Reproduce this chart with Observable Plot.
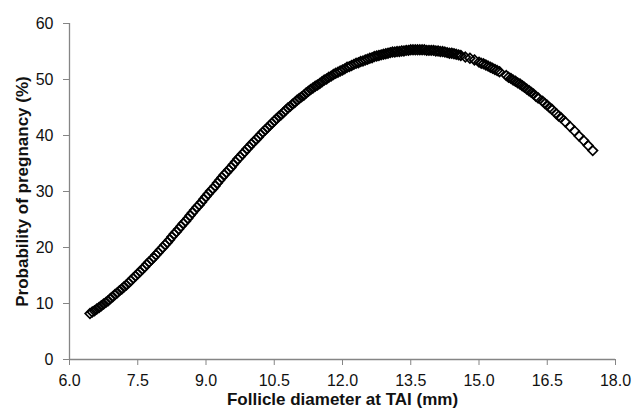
<!DOCTYPE html>
<html><head><meta charset="utf-8">
<script src="https://cdn.jsdelivr.net/npm/d3@7"></script>
<script src="https://cdn.jsdelivr.net/npm/@observablehq/plot@0.6"></script>
<style>body{margin:0;background:#fff;} #chart{width:635px;height:415px;}</style>
</head><body><div id="chart"></div>
<script>
// Follicle diameter at TAI (mm)
const diameter = [
  6.45, 6.5, 6.55, 6.6, 6.65, 6.7, 6.75, 6.8, 6.85, 6.9, 6.95, 7.0, 7.05, 7.1, 7.15, 7.2, 7.25, 7.3, 7.35, 7.4, 7.45, 7.5, 7.55, 7.6, 7.65, 7.7, 7.75, 7.8, 7.85, 7.9, 7.95,
  8.0, 8.05, 8.1, 8.15, 8.2, 8.25, 8.3, 8.35, 8.4, 8.45, 8.5, 8.55, 8.6, 8.65, 8.7, 8.75, 8.8, 8.85, 8.9, 8.95,
  9.0, 9.05, 9.1, 9.15, 9.2, 9.25, 9.3, 9.35, 9.4, 9.45, 9.5, 9.55, 9.6, 9.65, 9.7, 9.75, 9.8, 9.85, 9.9, 9.95,
  10.0, 10.05, 10.1, 10.15, 10.2, 10.25, 10.3, 10.35, 10.4, 10.45, 10.5, 10.55, 10.6, 10.65, 10.7, 10.75, 10.8, 10.85, 10.9, 10.95,
  11.0, 11.05, 11.1, 11.15, 11.2, 11.25, 11.3, 11.35, 11.4, 11.45, 11.5, 11.55, 11.6, 11.65, 11.7, 11.75, 11.8, 11.85, 11.9, 11.95,
  12.0, 12.05, 12.1, 12.15, 12.2, 12.25, 12.3, 12.35, 12.4, 12.45, 12.5, 12.55, 12.6, 12.65, 12.7, 12.75, 12.8, 12.85, 12.9, 12.95,
  13.0, 13.05, 13.1, 13.15, 13.2, 13.25, 13.3, 13.35, 13.4, 13.45, 13.5, 13.55, 13.6, 13.65, 13.7, 13.75, 13.8, 13.85, 13.9, 13.95,
  14.0, 14.05, 14.1, 14.15, 14.2, 14.25, 14.3, 14.35, 14.4, 14.45, 14.5, 14.55,
  14.6, 14.7, 14.8, 14.9,
  15.0, 15.05, 15.1, 15.15, 15.2, 15.25, 15.3, 15.35, 15.4, 15.45,
  15.6, 15.65, 15.7, 15.75, 15.8, 15.85, 15.9, 15.95, 16.0, 16.05, 16.1, 16.15, 16.2, 16.25, 16.3,
  16.4, 16.45, 16.5, 16.55, 16.6, 16.7, 16.75,
  16.8, 16.9, 17.0, 17.1, 17.2, 17.3, 17.4, 17.5
];
// Probability of pregnancy (%)
const probability = [
  8.2, 8.5, 8.7, 9.0, 9.3, 9.6, 9.9, 10.2, 10.5, 10.9, 11.2, 11.6, 11.9, 12.3, 12.6, 13.0, 13.3, 13.7, 14.1, 14.5, 14.9, 15.3, 15.7, 16.1, 16.5, 17.0, 17.4, 17.8, 18.2, 18.7, 19.1,
  19.6, 20.0, 20.5, 20.9, 21.4, 21.9, 22.4, 22.8, 23.3, 23.8, 24.3, 24.7, 25.2, 25.7, 26.2, 26.7, 27.2, 27.6, 28.1, 28.6,
  29.1, 29.6, 30.1, 30.5, 31.0, 31.5, 32.0, 32.5, 33.0, 33.4, 33.9, 34.3, 34.8, 35.3, 35.8, 36.2, 36.7, 37.1, 37.6, 38.0,
  38.5, 38.9, 39.3, 39.7, 40.2, 40.6, 41.0, 41.4, 41.8, 42.2, 42.6, 43.0, 43.4, 43.7, 44.1, 44.5, 44.9, 45.2, 45.6, 45.9,
  46.3, 46.6, 46.9, 47.2, 47.6, 47.9, 48.2, 48.5, 48.8, 49.0, 49.3, 49.6, 49.9, 50.1, 50.4, 50.6, 50.9, 51.1, 51.3, 51.5,
  51.7, 51.9, 52.2, 52.3, 52.5, 52.7, 52.9, 53.0, 53.2, 53.3, 53.5, 53.6, 53.8, 53.9, 54.1, 54.2, 54.3, 54.4, 54.5, 54.6,
  54.7, 54.8, 54.9, 54.9, 55.0, 55.0, 55.1, 55.1, 55.2, 55.2, 55.3, 55.3, 55.3, 55.3, 55.3, 55.3, 55.3, 55.2, 55.2, 55.2,
  55.2, 55.1, 55.1, 55.0, 55.0, 54.9, 54.8, 54.7, 54.7, 54.6, 54.5, 54.4,
  54.3, 54.0, 53.8, 53.5,
  53.1, 52.9, 52.8, 52.6, 52.4, 52.2, 52.0, 51.8, 51.6, 51.4,
  50.7, 50.4, 50.2, 49.9, 49.7, 49.4, 49.2, 48.9, 48.6, 48.3, 48.0, 47.7, 47.4, 47.0, 46.7,
  46.1, 45.7, 45.4, 45.0, 44.7, 43.9, 43.5,
  43.2, 42.4, 41.6, 40.8, 39.9, 39.1, 38.2, 37.3
];
const xTicks = [6.0, 7.5, 9.0, 10.5, 12.0, 13.5, 15.0, 16.5, 18.0];
const yTicks = [0, 10, 20, 30, 40, 50, 60];
const xTitle = "Follicle diameter at TAI (mm)";
const yTitle = "Probability of pregnancy (%)";

const data = diameter.map((d, i) => ({diameter: d, probability: probability[i]}));
const axisColor = "#858585";

const chart = Plot.plot({
  width: 635,
  height: 415,
  marginLeft: 69,
  marginRight: 20,
  marginTop: 23,
  marginBottom: 56,
  style: {fontFamily: "'Liberation Sans', Arial, Helvetica, sans-serif", fontSize: "16px", color: "#000", background: "#fff"},
  x: {domain: [6, 18]},
  y: {domain: [0, 60]},
  marks: [
    Plot.axisX({ticks: xTicks, tickFormat: d => d.toFixed(1), tickSize: 6, tickPadding: 9, stroke: axisColor, fill: "#111", fontSize: 16, label: null}),
    Plot.axisY({ticks: yTicks, tickSize: 6, tickPadding: 10, stroke: axisColor, fill: "#111", fontSize: 16, label: null}),
    Plot.ruleY([0], {stroke: axisColor, strokeWidth: 1.3}),
    Plot.ruleX([6], {stroke: axisColor, strokeWidth: 1.3}),
    Plot.dot(data, {x: "diameter", y: "probability", symbol: "diamond2", r: 4.3, stroke: "#000", fill: "none", strokeWidth: 1.7}),
    Plot.text([xTitle], {frameAnchor: "bottom", dy: 45, fontWeight: "bold", fontSize: 17, fill: "#111"}),
    Plot.text([yTitle], {frameAnchor: "left", textAnchor: "middle", dx: -47, rotate: -90, fontWeight: "bold", fontSize: 17, fill: "#111"})
  ]
});
document.getElementById("chart").append(chart);
</script>
</body></html>
